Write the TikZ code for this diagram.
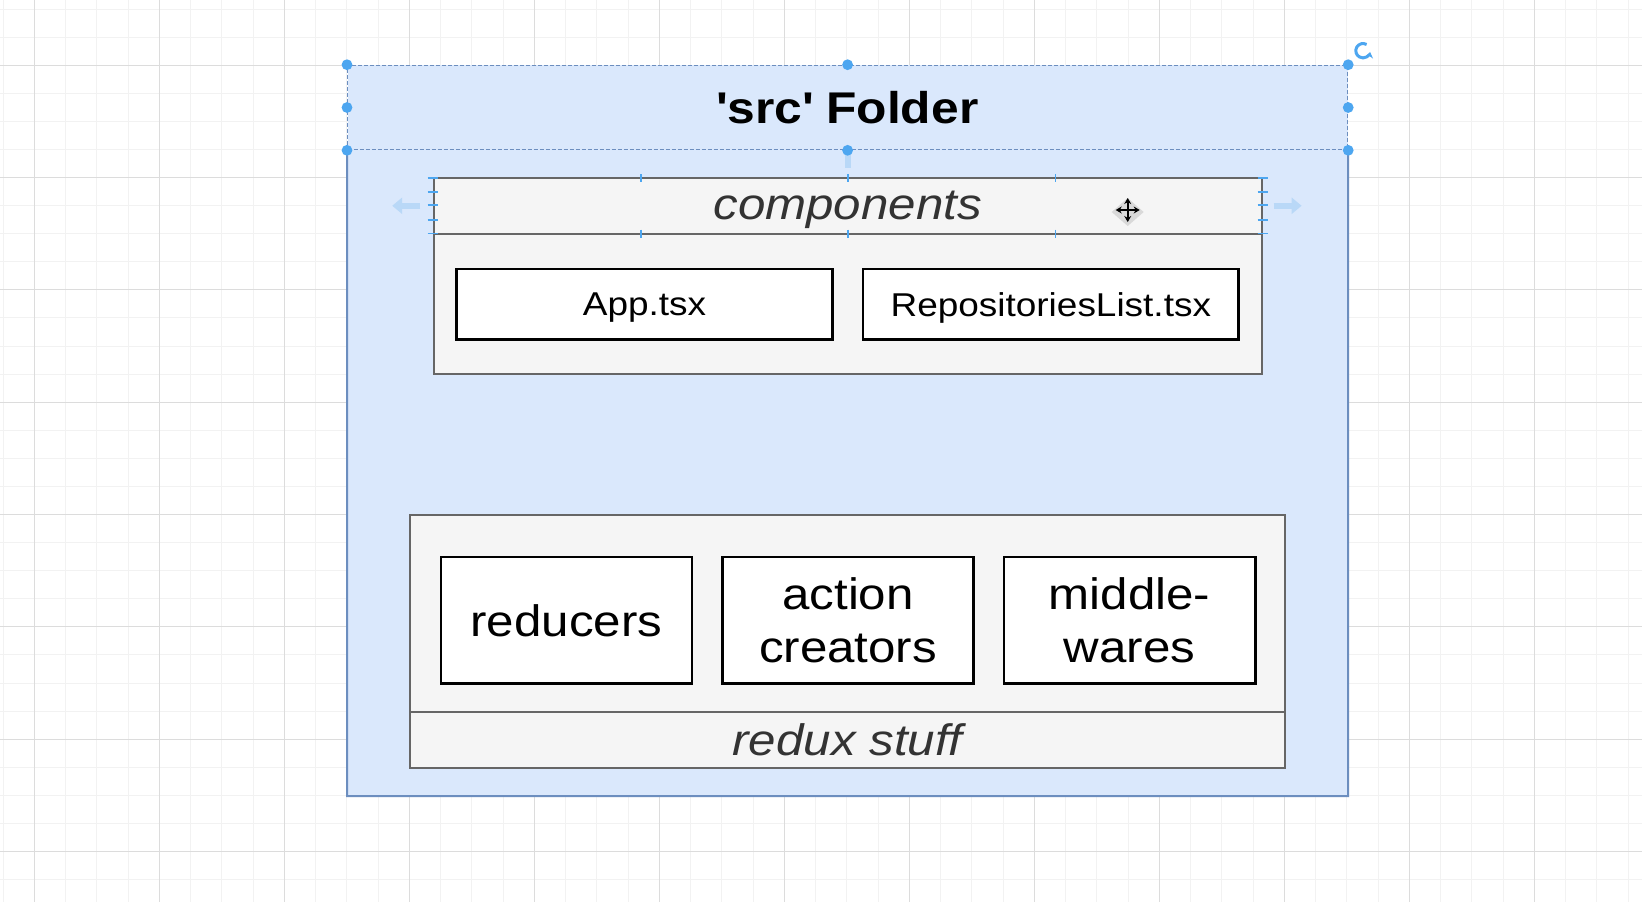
\documentclass[tikz,border=0pt]{standalone}
\usepackage{fontspec}
\setmainfont{Liberation Sans}[FakeStretch=1.12]
\usepackage{tikz}
\usetikzlibrary{positioning,arrows.meta}
\definecolor{srcfill}{HTML}{DAE8FC}
\definecolor{srcline}{HTML}{6C8EBF}
\definecolor{lanefill}{HTML}{F5F5F5}
\definecolor{laneline}{HTML}{666666}
\definecolor{lanetext}{HTML}{333333}
\definecolor{handlecol}{HTML}{4DA6F0}
\definecolor{hintcol}{HTML}{B9D8F7}
\definecolor{gridminor}{HTML}{F2F2F2}
\definecolor{gridmajor}{HTML}{DCDCDC}

\begin{document}
\begin{tikzpicture}[x=0.5pt,y=-0.5pt,node distance=13.9pt,
  folder/.style={rectangle,fill=srcfill,inner sep=0pt,minimum width=500pt},
  lane/.style={rectangle,draw=laneline,fill=lanefill,line width=1pt,inner sep=0pt},
  lanetitle/.style={lane,minimum height=27.75pt,text=lanetext,font=\fontsize{22}{26.5}\selectfont\itshape},
  file/.style={rectangle,draw=black,fill=white,line width=1.3pt,inner sep=0pt,align=center},
  smallfile/.style={file,minimum width=187.95pt,minimum height=35.1pt,text depth=0pt,
    font=\fontsize{16.5}{20}\selectfont},
  bigfile/.style={file,minimum width=125.6pt,minimum height=63.35pt,font=\fontsize{22}{26.8}\selectfont},
  dot/.style={circle,fill=handlecol,inner sep=0pt,minimum size=5.4pt},
  hint/.style={hintcol,line width=3pt,-{Triangle[length=5pt,width=8pt]}},
  move/.style={black,line width=1.2pt,{Stealth[length=3pt,width=3.5pt]}-{Stealth[length=3pt,width=3.5pt]}}]

  % canvas
  \fill[white] (0,0) rectangle (1642,902);
  \useasboundingbox (0,0) rectangle (1642,902);
  \foreach \i in {0,...,52}
    \draw[gridminor,line width=0.5pt] ({3.05+31.25*\i},0) -- ++(0,902);
  \foreach \j in {0,...,31}
    \draw[gridminor,line width=0.5pt] (0,{9.1+28.08*\j}) -- ++(1642,0);
  \foreach \i in {0,...,12}
    \draw[gridmajor,line width=0.5pt] ({34.3+125*\i},0) -- ++(0,902);
  \foreach \j in {0,...,7}
    \draw[gridmajor,line width=0.5pt] (0,{65.3+112.3*\j}) -- ++(1642,0);

  % src folder
  \node[folder,minimum height=365.2pt] (src) at (847.6,430.5) {};
  \node[folder,minimum height=42.2pt,draw=srcline,line width=0.6pt,dash pattern=on 2pt off 1pt,
    font=\fontsize{22.2}{26}\selectfont\bfseries] (srchead) at (847.6,107.5)
    {\textquotesingle src\textquotesingle{} Folder};
  \draw[srcline,line width=1pt] (srchead.south west) -- (src.south west)
    -- (src.south east) -- (srchead.south east);

  % components
  \node[lane,minimum width=414pt,minimum height=97.9pt] (comp) at (847.6,275.9) {};
  \node[lanetitle,minimum width=414pt,anchor=north,text depth=0pt] (comphead) at (comp.north) {components};
  \node[smallfile] (app) at (644.5,304.1) {App.tsx};
  \node[smallfile] (repo) [right = of app] {RepositoriesList.tsx};

  % redux stuff
  \node[lane,minimum width=437.15pt,minimum height=126.2pt] (redux) at (847.55,641.3) {};
  \node[lanetitle,minimum width=437.15pt,anchor=south] (reduxfoot) at (redux.south) {redux stuff};
  \node[bigfile] (red) at (566.4,620.4) {reducers};
  \node[bigfile] (act) [right = of red] {action\\creators};
  \node[bigfile] (mid) [right = of act] {middle-\\wares};

  % selection marks
  \draw[hintcol,line width=3pt] (srchead.south) -- ++(0,18);
  \foreach \a [count=\k] in {north west,north,north east,west,east,south west,south,south east}
    \node[dot] (h\k) at (srchead.\a) {};
  \draw[hint] ([xshift=-6.2pt]comphead.west) -- ++(-28,0);
  \draw[hint] ([xshift=5.5pt]comphead.east) -- ++(28,0);
  \foreach \x in {641,848,1055.6} {
    \draw[handlecol,line width=0.6pt] (\x,174) -- (\x,182);
    \draw[handlecol,line width=0.6pt] (\x,229.5) -- (\x,237.5);
  }
  \foreach \y in {178,192,205,220,233.5} {
    \draw[handlecol,line width=0.6pt] ([xshift=-2.5pt]comphead.west |- 0,\y) -- ++(10,0);
    \draw[handlecol,line width=0.6pt] ([xshift=-2.5pt]comphead.east |- 0,\y) -- ++(10,0);
  }
  \draw[handlecol,line width=1.5pt,-{Stealth[length=3pt,width=4pt]}] (1363,50.7) ++(60:3.6pt)
    arc[start angle=60,end angle=350,radius=3.6pt];
  \coordinate (cur) at (1127.7,210);
  \fill[black!15] ([yshift=-8pt]cur) -- ([xshift=8pt,yshift=-1pt]cur) -- ([yshift=6pt]cur)
    -- ([xshift=-8pt,yshift=-1pt]cur) -- cycle;
  \draw[move] ([xshift=-6pt]cur) -- ([xshift=6pt]cur);
  \draw[move] ([yshift=-6pt]cur) -- ([yshift=6pt]cur);
\end{tikzpicture}
\end{document}
